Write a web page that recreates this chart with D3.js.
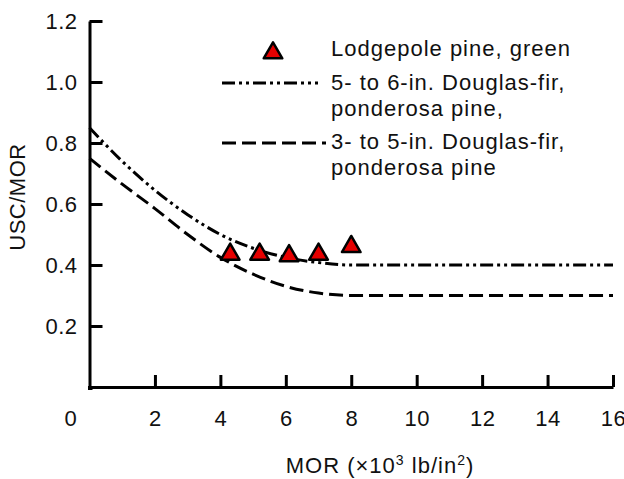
<!DOCTYPE html>
<html>
<head>
<meta charset="utf-8">
<script src="https://cdn.jsdelivr.net/npm/d3@7"></script>
<style>
  body { margin: 0; background: #fff; }
  text { font-family: Arial, "Liberation Sans", sans-serif; fill: #111; }
</style>
</head>
<body>
<div id="chart"></div>
<script>
// data
var xTicks = [2, 4, 6, 8, 10, 12, 14, 16];
var yTicks = [0.2, 0.4, 0.6, 0.8, 1.0, 1.2];

var pineX = [4.3, 5.2, 6.1, 7.0, 8.0];
var pineY = [0.435, 0.435, 0.43, 0.435, 0.46];

var curveX = [0, 1, 2, 3, 4, 5, 6, 7, 8, 16];
var bigFirY = [0.85, 0.74, 0.645, 0.565, 0.50, 0.455, 0.425, 0.408, 0.40, 0.40];
var smallFirY = [0.75, 0.665, 0.585, 0.50, 0.425, 0.37, 0.33, 0.308, 0.30, 0.30];

var legendLabels = [
    ["Lodgepole pine, green"],
    ["5- to 6-in. Douglas-fir,", "ponderosa pine,"],
    ["3- to 5-in. Douglas-fir,", "ponderosa pine"]
];

var width = 624, height = 479;

var svg = d3.select("#chart")
    .append("svg")
    .attr("width", width)
    .attr("height", height);

var x = d3.scaleLinear().domain([0, 16]).range([89.5, 613]);
var y = d3.scaleLinear().domain([0, 1.2]).range([387, 21]);

// y axis, ticks pointing inward
var yAxis = svg.append("g")
    .attr("transform", "translate(" + x(0) + ",0)")
    .call(d3.axisLeft(y).tickValues(yTicks).tickSizeInner(-13).tickSizeOuter(0)
        .tickPadding(12).tickFormat(d3.format(".1f")));

// x axis, ticks pointing up
var xAxis = svg.append("g")
    .attr("transform", "translate(0," + y(0) + ")")
    .call(d3.axisBottom(x).tickValues(xTicks).tickSizeInner(-12).tickSizeOuter(0)
        .tickPadding(23));

[yAxis, xAxis].forEach(function (g) {
    g.select(".domain").style("stroke", "#000").style("stroke-width", "3px");
    g.selectAll(".tick line").style("stroke", "#000").style("stroke-width", "3px");
    g.selectAll(".tick text")
        .style("font-size", "22px")
        .style("font-family", "Arial, 'Liberation Sans', sans-serif")
        .style("letter-spacing", "0.5px")
        .attr("fill", "#111");
});
// close the corner of the two axes
svg.append("path")
    .attr("d", "M" + x(0) + "," + (y(0) - 1) + "V" + (y(0) + 1.5) + "H" + (x(0) + 3))
    .style("stroke", "#000").style("stroke-width", "3px").attr("fill", "none");

// origin label sits left of the axis
svg.append("text")
    .attr("x", x(0) - 19)
    .attr("y", 426)
    .attr("text-anchor", "middle")
    .style("font-size", "22px")
    .text("0");

// axis titles
svg.append("text")
    .attr("transform", "translate(25,197) rotate(-90)")
    .attr("text-anchor", "middle")
    .style("font-size", "22px")
    .style("letter-spacing", "0.5px")
    .text("USC/MOR");

var xTitle = svg.append("text")
    .attr("x", 380)
    .attr("y", 473)
    .attr("text-anchor", "middle")
    .style("font-size", "22px")
    .style("letter-spacing", "1px");
xTitle.append("tspan").text("MOR (\u00d710");
xTitle.append("tspan").attr("dy", -8).style("font-size", "14px").text("3");
xTitle.append("tspan").attr("dy", 8).text(" lb/in");
xTitle.append("tspan").attr("dy", -8).style("font-size", "14px").text("2");
xTitle.append("tspan").attr("dy", 8).text(")");

// curves
var dashDotDot = "13,4,3,4,3,4";
var dashed = "14,6";

var line = d3.line()
    .x(function (d) { return x(d[0]); })
    .y(function (d) { return y(d[1]); })
    .curve(d3.curveMonotoneX);

svg.append("path")
    .datum(d3.zip(curveX, bigFirY))
    .attr("d", line)
    .attr("fill", "none")
    .attr("stroke", "#000")
    .attr("stroke-width", 3)
    .attr("stroke-dasharray", dashDotDot);

svg.append("path")
    .datum(d3.zip(curveX, smallFirY))
    .attr("d", line)
    .attr("fill", "none")
    .attr("stroke", "#000")
    .attr("stroke-width", 3)
    .attr("stroke-dasharray", dashed);

// triangles
var tri = d3.symbol().type(d3.symbolTriangle).size(150);

svg.selectAll(".pine")
    .data(d3.zip(pineX, pineY))
    .enter()
    .append("path")
    .attr("class", "pine")
    .attr("transform", function (d) {
        return "translate(" + x(d[0]) + "," + y(d[1]) + ")";
    })
    .attr("d", tri)
    .attr("fill", "#e60000")
    .attr("stroke", "#000")
    .attr("stroke-width", 2.5)
    .attr("stroke-linejoin", "round");

// legend
svg.append("path")
    .attr("transform", "translate(273,53)")
    .attr("d", tri)
    .attr("fill", "#e60000")
    .attr("stroke", "#000")
    .attr("stroke-width", 2.5)
    .attr("stroke-linejoin", "round");

svg.append("line")
    .attr("x1", 222).attr("x2", 318).attr("y1", 83).attr("y2", 83)
    .attr("stroke", "#000").attr("stroke-width", 3)
    .attr("stroke-dasharray", dashDotDot);

svg.append("line")
    .attr("x1", 222).attr("x2", 326).attr("y1", 143).attr("y2", 143)
    .attr("stroke", "#000").attr("stroke-width", 3)
    .attr("stroke-dasharray", dashed);

var legendBaselines = [[56], [90, 116], [149, 175]];

legendLabels.forEach(function (lines, i) {
    lines.forEach(function (t, j) {
        svg.append("text")
            .attr("x", 331)
            .attr("y", legendBaselines[i][j])
            .style("font-size", "22px")
            .style("letter-spacing", "1px")
            .text(t);
    });
});
</script>
</body>
</html>
